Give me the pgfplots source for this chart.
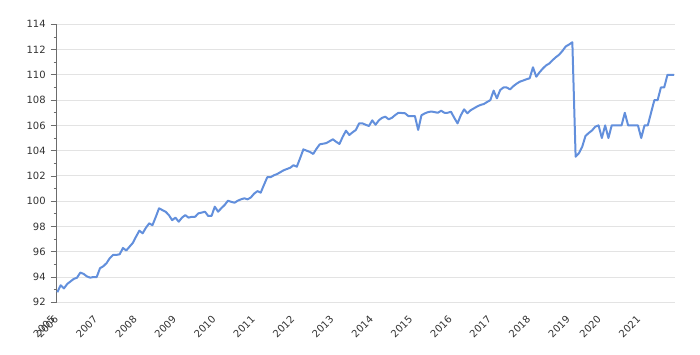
\documentclass[border=0pt]{standalone}
\usepackage{pgfplots}
\pgfplotsset{compat=1.18}
\usepackage{pgfplotstable}
\usepackage{fontspec}
\setmainfont{DejaVu Sans}
\definecolor{lineblue}{RGB}{98,143,220}
\definecolor{txt}{RGB}{51,51,51}
\pgfplotstableread{
x y
0 92.8
1 93.35
2 93.1
3 93.45
4 93.65
5 93.85
6 93.95
7 94.35
8 94.25
9 94.05
10 93.95
11 94.0
12 94.0
13 94.7
14 94.85
15 95.1
16 95.5
17 95.75
18 95.75
19 95.8
20 96.3
21 96.1
22 96.4
23 96.7
24 97.2
25 97.67
26 97.46
27 97.9
28 98.25
29 98.1
30 98.75
31 99.44
32 99.3
33 99.17
34 98.9
35 98.5
36 98.7
37 98.38
38 98.7
39 98.9
40 98.7
41 98.77
42 98.77
43 99.04
44 99.1
45 99.17
46 98.83
47 98.83
48 99.57
49 99.17
50 99.45
51 99.7
52 100.04
53 99.95
54 99.88
55 100.04
56 100.15
57 100.23
58 100.15
59 100.3
60 100.6
61 100.8
62 100.68
63 101.3
64 101.9
65 101.9
66 102.05
67 102.15
68 102.3
69 102.45
70 102.55
71 102.65
72 102.85
73 102.73
74 103.4
75 104.1
76 104.0
77 103.9
78 103.74
79 104.15
80 104.5
81 104.55
82 104.6
83 104.75
84 104.9
85 104.7
86 104.53
87 105.1
88 105.58
89 105.24
90 105.45
91 105.64
92 106.16
93 106.16
94 106.05
95 105.95
96 106.4
97 106.05
98 106.4
99 106.6
100 106.69
101 106.48
102 106.6
103 106.82
104 107.0
105 106.98
106 106.96
107 106.74
108 106.74
109 106.74
110 105.64
111 106.8
112 106.95
113 107.05
114 107.1
115 107.05
116 107.0
117 107.16
118 107.0
119 107.0
120 107.08
121 106.6
122 106.16
123 106.8
124 107.27
125 106.96
126 107.2
127 107.35
128 107.5
129 107.62
130 107.69
131 107.85
132 108.0
133 108.75
134 108.14
135 108.8
136 109.0
137 109.0
138 108.85
139 109.1
140 109.3
141 109.46
142 109.55
143 109.65
144 109.73
145 110.6
146 109.85
147 110.2
148 110.5
149 110.75
150 110.9
151 111.17
152 111.4
153 111.6
154 111.9
155 112.25
156 112.4
157 112.58
158 103.52
159 103.8
160 104.3
161 105.16
162 105.4
163 105.6
164 105.9
165 106.0
166 105.0
167 106.0
168 105.0
169 106
170 106
171 106
172 106
173 107
174 106
175 106
176 106
177 106
178 105
179 106
180 106
181 107
182 108
183 108
184 109
185 109
186 110
187 110
188 110
}\datatable
\begin{document}
\begin{tikzpicture}
\begin{axis}[
  scale only axis,
  width=618.3pt, height=278pt,
  xmin=-0.2, xmax=188.3,
  ymin=92, ymax=114,
  ytick={92,94,...,114},
  minor y tick num=1,
  xtick={0,1,13,25,37,49,61,73,85,97,109,121,133,145,157,166.5,178.5},
  xticklabels={2005,2006,2007,2008,2009,2010,2011,2012,2013,2014,2015,2016,2017,2018,2019,2020,2021},
  axis lines=left,
  axis line style={-},
  x axis line style={draw=none},
  y axis line style={draw=gray!85!black, line width=1pt},
  xtick style={draw=none},
  ytick style={draw=gray!85!black, line width=0.8pt},
  tick align=outside,
  major tick length=6pt,
  minor tick length=3pt,
  ymajorgrids=true,
  major grid style={draw=gray!22, line width=0.9pt},
  tick label style={font=\fontsize{10}{12}\selectfont, text=txt},
  /pgf/number format/assume math mode=true,
  yticklabel style={xshift=-1.5pt},
  xticklabel style={xshift=-7pt, yshift=-5pt, rotate=45, anchor=north east, inner sep=1pt},
  clip=false,
]
\addplot[lineblue, line width=2pt, line join=round] table[x=x,y=y] {\datatable};
\end{axis}
\path ([shift={(-56.7pt,-51.7pt)}]current axis.south west) rectangle ([shift={(25pt,24.3pt)}]current axis.north east);
\end{tikzpicture}
\end{document}
